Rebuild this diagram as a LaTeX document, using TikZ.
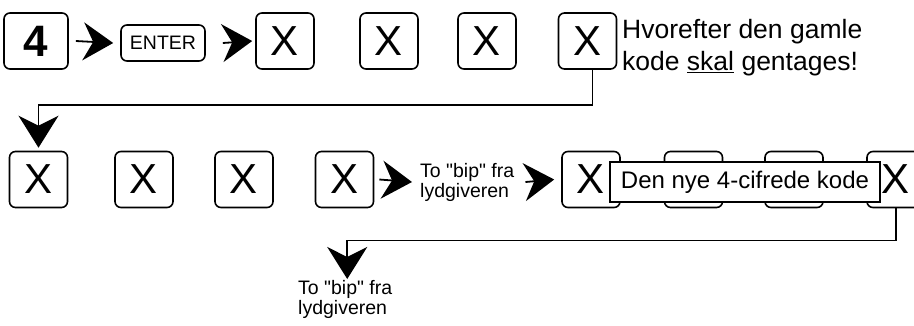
\documentclass[tikz,border=0pt]{standalone}
\usepackage{fontspec}
\setmainfont{Liberation Sans}[Ligatures=TeXOff]
\usetikzlibrary{arrows.meta}
\begin{document}
\begin{tikzpicture}[x=1pt,y=-1pt,
  key/.style={draw, line width=1.6pt, rounded corners=6pt, minimum width=58pt,
    minimum height=56pt, inner sep=0pt, fill=white,
    font=\fontsize{42}{46}\selectfont},
  conn/.style={line width=1.5pt, -{Stealth[length=32pt,width=40pt,inset=10pt]}},
  rarr/.style={line width=1.8pt, -{Stealth[length=30pt,width=38pt,inset=10pt]}},
  txt/.style={inner sep=0pt, align=left},
  lab/.style={draw, fill=white, line width=1.3pt, minimum width=270pt,
    minimum height=40pt, inner sep=0pt, font=\fontsize{24}{28}\selectfont}
]
\useasboundingbox (0,0) rectangle (914,325);
% row 1
\node[key, minimum width=64pt, font=\fontsize{44}{48}\selectfont\bfseries] (k4) at (36,41) {4};
\node[key, minimum width=84pt, minimum height=36pt, font=\fontsize{19.5}{21}\selectfont] (enter) at (163,43) {ENTER};
\node[key] (x1) at (285,41) {X};
\node[key] (x2) at (389,41) {X};
\node[key] (x3) at (487,41) {X};
\node[key] (x4) at (587.5,41) {X};
\node[txt, anchor=north west, font=\fontsize{26.5}{32}\selectfont] (t1) at (622,19)
  {Hvorefter den gamle\\kode \underline{skal} gentages!};
\draw[rarr] ([xshift=7pt]k4.east) -- ([xshift=-7pt]enter.west);
\draw[rarr] ([xshift=17pt]enter.east) -- ([xshift=-3pt]x1.west);
% row 2
\node[key] (x5) at (38.5,179.5) {X};
\node[key] (x6) at (144,179.5) {X};
\node[key] (x7) at (244,179.5) {X};
\node[key] (x8) at (344.5,179.5) {X};
\node[txt, anchor=west, font=\fontsize{19.5}{20}\selectfont] (bip1) at (420,182)
  {To "bip" fra\\lydgiveren};
\node[key] (x9) at (591,179.5) {X\hspace{10pt}};
\node[key] (x10) at (693.5,179.5) {};
\node[key] (x11) at (794,179.5) {};
\node[key] (x12) at (896,179.5) {X};
\node[lab] (label) at (745,182) {Den nye 4-cifrede kode};
\draw[rarr] ([xshift=5pt]x8.east) -- ([xshift=-8pt]bip1.west);
\draw[rarr] ([xshift=11pt]bip1.east) -- ([xshift=-7pt]x9.west);
% connectors
\draw[conn, shorten >=3pt] ([xshift=5pt]x4.south) -- ++(0,35) -| (x5.north);
\node[txt, anchor=north west, font=\fontsize{19.5}{20}\selectfont] (bip2) at (298,280)
  {To "bip" fra\\lydgiveren};
\coordinate (b2top) at ([xshift=2pt]bip2.north);
\draw[conn, shorten >=1pt] (x12.south) -- ++(0,32) -| (b2top);
\end{tikzpicture}
\end{document}
